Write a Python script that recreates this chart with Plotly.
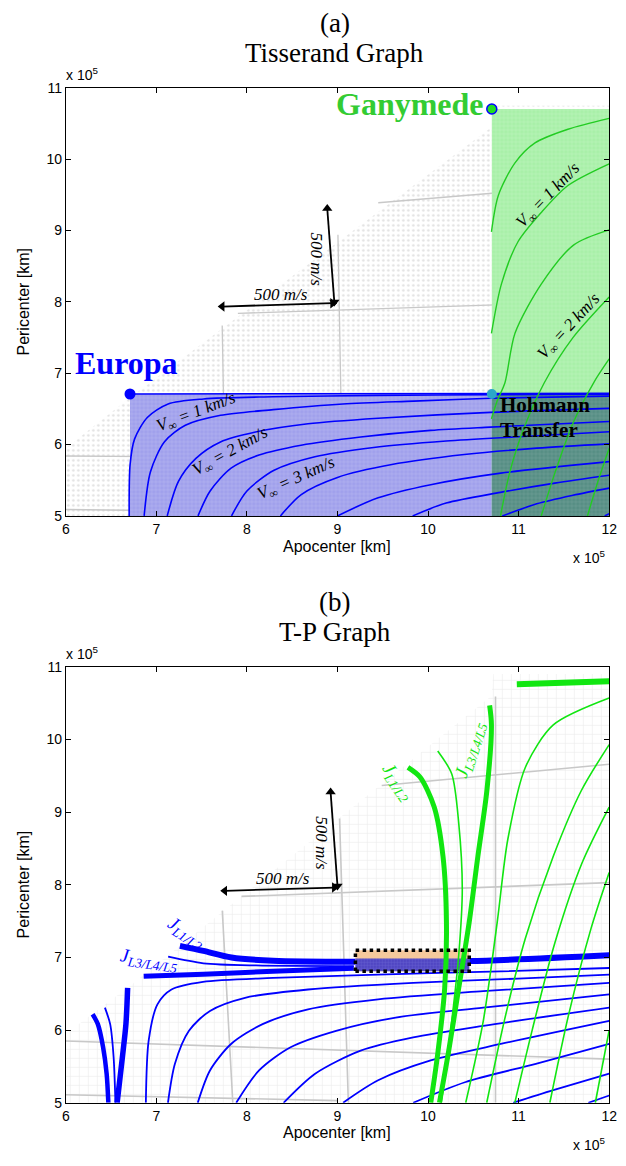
import plotly.graph_objects as go

W, H = 626, 1166

# ---------------- data (units of 1e5 km) ----------------
EUROPA_R = 6.709
GANYMEDE_R = 10.704
X_TICKS = [6, 7, 8, 9, 10, 11, 12]
Y_TICKS = [5, 6, 7, 8, 9, 10, 11]

# feasible region (pericenter <= apocenter) boundary
REGION_X = [6.0, 6.0, 6.7, 10.7, 10.72, 12.0, 12.0]
REGION_Y = [5.0, 5.95, 6.65, 10.45, 10.75, 10.75, 5.0]
REGION2_Y = [5.0, 5.95, 6.6, 10.6, 10.9, 10.9, 5.0]

# (a) Europa V_inf contours
TIS_BLUE_X = [
    [6.70, 6.71, 6.76, 6.90, 7.13, 7.52, 8.29, 9.45, 10.70, 12.0],
    [6.865, 6.935, 7.09, 7.32, 7.71, 8.29, 9.06, 9.84, 10.70, 12.0],
    [7.12, 7.244, 7.437, 7.708, 8.095, 8.675, 9.449, 10.69, 12.0],
    [7.46, 7.592, 7.825, 8.134, 8.598, 9.256, 10.029, 10.69, 12.0],
    [7.83, 8.0, 8.3, 8.75, 9.4, 10.2, 11.0, 12.0],
    [8.37, 8.6, 9.0, 9.6, 10.4, 11.2, 12.0],
    [9.0, 9.449, 10.029, 10.803, 12.0],
    [9.83, 10.2, 10.8, 11.4, 12.0],
    [10.82, 11.2, 11.6, 12.0],
    [11.95, 12.0],
]
TIS_BLUE_Y = [
    [5.0, 5.72, 6.08, 6.38, 6.57, 6.64, 6.67, 6.69, 6.70, 6.705],
    [5.0, 5.62, 6.04, 6.27, 6.41, 6.49, 6.57, 6.61, 6.65, 6.68],
    [5.0, 5.484, 5.807, 6.037, 6.176, 6.291, 6.369, 6.452, 6.507],
    [5.0, 5.346, 5.669, 5.853, 5.991, 6.106, 6.199, 6.245, 6.323],
    [5.0, 5.35, 5.64, 5.83, 5.96, 6.05, 6.11, 6.18],
    [5.0, 5.3, 5.54, 5.72, 5.86, 5.95, 6.01],
    [5.0, 5.254, 5.438, 5.6, 5.761],
    [5.0, 5.18, 5.33, 5.46, 5.57],
    [5.0, 5.17, 5.29, 5.39],
    [5.0, 5.03],
]
# (a) Ganymede V_inf contours
TIS_GREEN_X = [
    [10.70, 10.776, 10.96, 11.177, 11.545, 12.0],
    [10.70, 10.81, 10.993, 11.253, 11.545, 12.0],
    [10.70, 10.76, 10.85, 10.96, 11.25, 11.61, 12.0],
    [10.80, 10.9, 11.05, 11.285, 11.6, 12.0],
    [11.25, 11.4, 11.6, 11.83, 12.0],
    [11.76, 11.88, 12.0],
]
TIS_GREEN_Y = [
    [8.982, 9.493, 9.95, 10.226, 10.42, 10.572],
    [7.558, 8.249, 8.843, 9.258, 9.632, 9.936],
    [6.36, 6.6, 6.87, 7.56, 8.25, 8.80, 9.01],
    [5.0, 5.6, 6.2, 6.87, 7.5, 8.07],
    [5.0, 5.6, 6.3, 6.87, 7.2],
    [5.0, 5.5, 5.95],
]
TIS_GRAY_X = [[9.45, 12.0], [7.90, 12.0], [7.727, 7.765], [9.005, 9.062],
              [6.0, 7.0, 9.8], [6.0, 6.7]]
TIS_GRAY_Y = [[9.39, 9.66], [7.84, 8.01], [7.67, 5.0], [8.94, 5.0],
              [5.84, 5.83, 5.76], [5.09, 5.08]]
# 500 m/s reference arrows: (x0, y0, x1, y1)
TIS_ARROWS = [(7.727, 7.935, 8.946, 7.982), (8.965, 8.0, 8.887, 9.31)]

# (b) Europa T-P curves: thin
TP_BLUE_X = [
    [6.884, 6.915, 7.012, 7.167, 7.515, 8.289, 9.449, 10.803, 12.0],
    [7.128, 7.205, 7.36, 7.592, 7.979, 8.675, 9.836, 10.996, 12.0],
    [7.457, 7.592, 7.825, 8.173, 8.675, 9.449, 10.61, 12.0],
    [7.882, 8.134, 8.482, 8.985, 9.643, 10.61, 12.0],
    [8.405, 8.753, 9.256, 9.836, 10.61, 12.0],
    [9.062, 9.449, 10.029, 10.803, 12.0],
    [9.836, 10.416, 11.19, 12.0],
    [10.94, 11.383, 12.0],
    [11.77, 12.0],
    [7.13, 7.52, 8.1, 9.18],
    [6.432, 6.49, 6.528, 6.548],
]
TP_BLUE_Y = [
    [5.0, 5.855, 6.355, 6.559, 6.664, 6.718, 6.764, 6.809, 6.855],
    [5.0, 5.536, 5.991, 6.264, 6.445, 6.559, 6.65, 6.709, 6.764],
    [5.0, 5.445, 5.809, 6.082, 6.286, 6.423, 6.536, 6.65],
    [5.0, 5.445, 5.764, 5.991, 6.173, 6.309, 6.491],
    [5.0, 5.4, 5.718, 5.9, 6.059, 6.309],
    [5.0, 5.309, 5.582, 5.809, 6.127],
    [5.0, 5.286, 5.536, 5.809],
    [5.0, 5.173, 5.4],
    [5.0, 5.1],
    [7.01, 6.92, 6.89, 6.88],
    [6.309, 6.082, 5.627, 5.0],
]
# (b) Europa thick (Jacobi) curves
TP_BLUE_THICK_X = [
    [7.26, 7.52, 7.83, 8.29, 9.18, 10.45, 12.0],
    [6.86, 7.52, 8.29, 9.18],
    [6.296, 6.354, 6.412, 6.451, 6.47],
    [6.683, 6.664, 6.625, 6.567],
]
TP_BLUE_THICK_Y = [
    [7.16, 7.09, 7.0, 6.955, 6.94, 6.95, 7.03],
    [6.74, 6.77, 6.81, 6.85],
    [6.218, 6.082, 5.764, 5.4, 5.0],
    [6.582, 6.082, 5.627, 5.0],
]
# (b) Ganymede T-P curves: thin
TP_GREEN_X = [
    [10.107, 10.262, 10.339, 10.378, 10.339, 10.262, 10.146],
    [10.416, 10.61, 10.764, 10.88, 11.074, 11.383, 12.0],
    [10.648, 10.842, 11.074, 11.383, 11.693, 12.0],
    [10.958, 11.15, 11.4, 11.7, 12.0],
    [11.345, 11.55, 11.8, 12.0],
    [11.847, 12.0],
]
TP_GREEN_Y = [
    [9.842, 9.525, 8.846, 7.94, 7.034, 6.128, 5.0],
    [5.0, 6.128, 7.487, 8.62, 9.615, 10.2, 10.57],
    [5.0, 6.128, 7.26, 8.393, 9.298, 9.93],
    [5.0, 6.0, 7.2, 8.3, 9.07],
    [5.0, 6.2, 7.4, 8.17],
    [5.0, 6.0],
]
# (b) Ganymede thick (Jacobi) curves
TP_GREEN_THICK_X = [
    [9.778, 9.913, 10.068, 10.165, 10.203, 10.184, 10.107, 10.03],
    [10.68, 10.70, 10.65, 10.55, 10.455, 10.339, 10.223, 10.126],
    [10.98, 12.0],
]
TP_GREEN_THICK_Y = [
    [9.615, 9.48, 9.072, 8.393, 7.487, 6.58, 5.675, 5.0],
    [10.47, 10.2, 9.3, 8.39, 7.49, 6.58, 5.675, 5.0],
    [10.76, 10.8],
]
TP_GRAY_X = [[7.728, 7.844], [9.023, 9.12], [10.745, 10.745], [9.488, 12.0],
             [7.94, 12.0], [6.0, 12.0], [6.0, 9.0]]
TP_GRAY_Y = [[7.645, 5.0], [8.913, 5.0], [10.59, 5.0], [9.366, 9.66],
             [7.84, 8.03], [5.85, 5.6], [5.11, 5.03]]
TP_ARROWS = [(7.755, 7.917, 8.965, 7.962), (9.0, 7.985, 8.924, 9.276)]
# (b) highlighted transfer box
BOX_X = [9.198, 10.455]
BOX_Y = [6.81, 7.10]
BOX_SPLIT_Y = 6.985

# ---------------- figure ----------------
BLUE = "#0000ff"
GREEN_A = "#22cc22"
GREEN_B = "#11e611"
GRAY = "#c8c8c8"

fig = go.Figure()


def add_line(xs, ys, color, width, xa="x", ya="y", shape="spline"):
    fig.add_trace(go.Scatter(x=xs, y=ys, mode="lines", xaxis=xa, yaxis=ya,
                             line=dict(color=color, width=width, shape=shape,
                                       smoothing=0.8),
                             hoverinfo="skip", showlegend=False))


def add_region(xs, ys, pattern=None, color=None, xa="x", ya="y"):
    kw = dict(fillpattern=pattern) if pattern else dict(fillcolor=color)
    fig.add_trace(go.Scatter(x=xs, y=ys, mode="lines", fill="toself",
                             xaxis=xa, yaxis=ya, line=dict(width=0),
                             hoverinfo="skip", showlegend=False, **kw))


def add_arrow(a, xa="x", ya="y"):
    x0, y0, x1, y1 = a
    horizontal = abs(x1 - x0) * 92 > abs(y1 - y0) * 72
    syms = ["triangle-left", "triangle-right"] if horizontal else \
        ["triangle-down", "triangle-up"]
    fig.add_trace(go.Scatter(x=[x0, x1], y=[y0, y1], mode="lines+markers",
                             xaxis=xa, yaxis=ya,
                             line=dict(color="black", width=1.8),
                             marker=dict(symbol=syms, size=9, color="black"),
                             hoverinfo="skip", showlegend=False))


# ---- panel (a) ----
add_region(REGION_X, REGION_Y,
           dict(shape=".", size=5, solidity=0.2, fgcolor="#c4c4c4",
                bgcolor="white"))
for xs, ys in zip(TIS_GRAY_X, TIS_GRAY_Y):
    add_line(xs, ys, GRAY, 1.3, shape="linear")

rx = [EUROPA_R, 12, 12, EUROPA_R, EUROPA_R]
ry = [5, 5, EUROPA_R, EUROPA_R, 5]
add_region(rx, ry, dict(shape="+", size=4, solidity=0.25,
                        fgcolor="rgba(255,255,255,0.5)",
                        bgcolor="rgb(160,160,236)"))
gx = [GANYMEDE_R, 12, 12, GANYMEDE_R, GANYMEDE_R]
gy = [5, 5, GANYMEDE_R, GANYMEDE_R, 5]
add_region(gx, gy, dict(shape="+", size=4, solidity=0.25,
                        fgcolor="rgba(255,255,255,0.5)",
                        bgcolor="rgb(168,240,168)"))
ox = [GANYMEDE_R, 12, 12, GANYMEDE_R, GANYMEDE_R]
oy = [5, 5, EUROPA_R, EUROPA_R, 5]
add_region(ox, oy, dict(shape="+", size=4, solidity=0.25,
                        fgcolor="rgba(255,255,255,0.35)",
                        bgcolor="rgb(86,142,132)"))

add_line([EUROPA_R, 12], [EUROPA_R, EUROPA_R + 0.01], BLUE, 1.6, shape="linear")
for xs, ys in zip(TIS_BLUE_X, TIS_BLUE_Y):
    add_line(xs, ys, BLUE, 1.6)
for xs, ys in zip(TIS_GREEN_X, TIS_GREEN_Y):
    add_line(xs, ys, GREEN_A, 1.4)
for a in TIS_ARROWS:
    add_arrow(a)

fig.add_trace(go.Scatter(x=[EUROPA_R], y=[EUROPA_R], mode="markers",
                         marker=dict(size=11, color=BLUE),
                         hoverinfo="skip", showlegend=False))
fig.add_trace(go.Scatter(x=[GANYMEDE_R], y=[GANYMEDE_R], mode="markers",
                         marker=dict(size=10, color="#22dd22",
                                     line=dict(color=BLUE, width=1.5)),
                         hoverinfo="skip", showlegend=False))
fig.add_trace(go.Scatter(x=[GANYMEDE_R], y=[EUROPA_R], mode="markers",
                         marker=dict(size=10, color="#2aa8c8"),
                         hoverinfo="skip", showlegend=False))

# ---- panel (b) ----
add_region(REGION_X, REGION2_Y,
           dict(shape="+", size=9, solidity=0.1, fgcolor="#cdcdcd",
                bgcolor="white"), xa="x2", ya="y2")
for xs, ys in zip(TP_GRAY_X, TP_GRAY_Y):
    add_line(xs, ys, GRAY, 1.6, "x2", "y2", shape="linear")

for xs, ys in zip(TP_BLUE_X, TP_BLUE_Y):
    add_line(xs, ys, BLUE, 1.8, "x2", "y2")
for i, (xs, ys) in enumerate(zip(TP_BLUE_THICK_X, TP_BLUE_THICK_Y)):
    add_line(xs, ys, BLUE, [6, 5, 4.5, 5.5][i], "x2", "y2")

# transfer box
bx = [BOX_X[0], BOX_X[1], BOX_X[1], BOX_X[0], BOX_X[0]]
add_region(bx, [BOX_Y[0], BOX_Y[0], BOX_Y[1], BOX_Y[1], BOX_Y[0]],
           color="#f6c99c", xa="x2", ya="y2")
add_region(bx, [BOX_Y[0], BOX_Y[0], BOX_SPLIT_Y, BOX_SPLIT_Y, BOX_Y[0]],
           dict(shape="+", size=3, solidity=0.3,
                fgcolor="rgba(150,150,235,0.6)", bgcolor="rgb(80,70,195)"),
           xa="x2", ya="y2")

for xs, ys in zip(TP_GREEN_X, TP_GREEN_Y):
    add_line(xs, ys, GREEN_B, 1.6, "x2", "y2")
for i, (xs, ys) in enumerate(zip(TP_GREEN_THICK_X, TP_GREEN_THICK_Y)):
    add_line(xs, ys, GREEN_B, [5, 5, 6][i], "x2", "y2")

fig.add_trace(go.Scatter(x=bx, y=[BOX_Y[0], BOX_Y[0], BOX_Y[1], BOX_Y[1], BOX_Y[0]],
                         mode="lines", xaxis="x2", yaxis="y2",
                         line=dict(color="black", width=3.5, dash="dot"),
                         hoverinfo="skip", showlegend=False))
for a in TP_ARROWS:
    add_arrow(a, "x2", "y2")

# ---------------- axes ----------------
TICKFONT = dict(family="Liberation Sans, Arial", size=14, color="black")
ax_common = dict(showline=True, linecolor="black", linewidth=1, mirror="ticks",
                 ticks="inside", ticklen=5, tickcolor="black", showgrid=False,
                 zeroline=False, tickfont=TICKFONT)
xd = [63 / W, 617 / W]
fig.update_layout(
    width=W, height=H, margin=dict(l=0, r=0, t=0, b=0),
    paper_bgcolor="white", plot_bgcolor="white", showlegend=False,
    xaxis=dict(domain=xd, range=[6, 12], tickvals=X_TICKS, anchor="y",
               **ax_common),
    yaxis=dict(domain=[(H - 515) / H, (H - 81) / H], range=[5, 11],
               tickvals=Y_TICKS, anchor="x", **ax_common),
    xaxis2=dict(domain=xd, range=[6, 12], tickvals=X_TICKS, anchor="y2",
                **ax_common),
    yaxis2=dict(domain=[(H - 1110) / H, (H - 668) / H], range=[5, 11],
                tickvals=Y_TICKS, anchor="x2", **ax_common),
)

# ---------------- annotations ----------------
ann = []
SERIF = "Liberation Serif, Times New Roman"
SANS = "Liberation Sans, Arial"


def ptext(text, px, py, size, family=SANS, angle=0, color="black"):
    ann.append(dict(text=text, x=px / W, y=(H - py) / H, xref="paper",
                    yref="paper", showarrow=False, textangle=angle,
                    xanchor="center", yanchor="middle",
                    font=dict(family=family, size=size, color=color)))


def dtext(text, x, y, size, xa="x", ya="y", family=SERIF, angle=0,
          color="black", xanchor="center"):
    ann.append(dict(text=text, x=x, y=y, xref=xa, yref=ya, showarrow=False,
                    textangle=angle, xanchor=xanchor, yanchor="middle",
                    font=dict(family=family, size=size, color=color)))


ptext("(a)", 337, 15, 27, SERIF)
ptext("Tisserand Graph", 337, 46, 27, SERIF)
ptext("(b)", 337, 602, 27, SERIF)
ptext("T-P Graph", 337, 633, 27, SERIF)
ptext("x 10<sup>5</sup>", 80, 67, 14)
ptext("x 10<sup>5</sup>", 596, 557, 14)
ptext("x 10<sup>5</sup>", 80, 654, 14)
ptext("x 10<sup>5</sup>", 596, 1152, 14)
ptext("Apocenter [km]", 340, 546, 16)
ptext("Apocenter [km]", 340, 1140, 16)
ptext("Pericenter [km]", 20, 298, 16, angle=-90)
ptext("Pericenter [km]", 20, 889, 16, angle=-90)

# panel (a) labels
dtext("<b>Europa</b>", 6.67, 7.14, 32, color=BLUE)
dtext("<b>Ganymede</b>", 9.80, 10.78, 32, color="#33cc33")
dtext("<b>Hohmann</b>", 10.77, 6.56, 21, xanchor="left")
dtext("<b>Transfer</b>", 10.77, 6.20, 21, xanchor="left")
VI = "<i>V</i><sub>∞</sub><i> = %d km/s</i>"
dtext(VI % 1, 7.44, 6.44, 17, angle=-21)
dtext(VI % 2, 7.82, 5.90, 17, angle=-29)
dtext(VI % 3, 8.55, 5.52, 17, angle=-24)
dtext(VI % 1, 11.33, 9.49, 17, angle=-46)
dtext(VI % 2, 11.56, 7.65, 17, angle=-47)
dtext("<i>500 m/s</i>", 8.38, 8.10, 17)
dtext("<i>500 m/s</i>", 8.77, 8.6, 17, angle=90)

# panel (b) labels
dtext("<i>500 m/s</i>", 8.40, 8.08, 17, "x2", "y2")
dtext("<i>500 m/s</i>", 8.82, 8.57, 17, "x2", "y2", angle=90)
dtext("<i>J</i><sub><i>L1/L2</i></sub>", 7.33, 7.34, 19, "x2", "y2",
      angle=33, color=BLUE)
dtext("<i>J</i><sub><i>L3/L4/L5</i></sub>", 6.92, 6.97, 19, "x2", "y2",
      angle=8, color=BLUE)
dtext("<i>J</i><sub><i>L1/L2</i></sub>", 9.66, 9.41, 19, "x2", "y2",
      angle=55, color=GREEN_B)
dtext("<i>J</i><sub><i>L3/L4/L5</i></sub>", 10.47, 9.85, 19, "x2", "y2",
      angle=-72, color=GREEN_B)

fig.update_layout(annotations=ann)
fig.write_html("out.html")
